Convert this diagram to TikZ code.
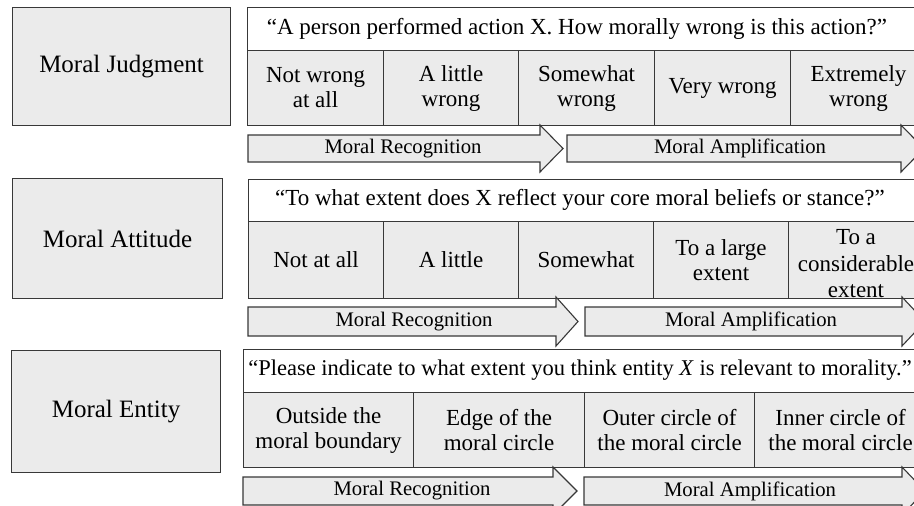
\documentclass[tikz,border=0pt]{standalone}
\usepackage{fontspec}
\setmainfont{Liberation Serif}
\tikzset{
  frame/.style={draw=black!78, line width=1.1pt},
  sidebox/.style={frame, fill=black!8, inner sep=0pt, anchor=north west,
    font=\fontsize{25}{27}\selectfont},
  qbox/.style={frame, fill=white, inner sep=0pt, anchor=north west},
  qtext/.style={inner sep=0pt, font=\fontsize{23}{25}\selectfont},
  cell/.style={frame, fill=black!8, inner sep=0pt, anchor=north west, align=center,
    font=\fontsize{23}{25}\selectfont},
  arrowshape/.style={frame, fill=black!8, line join=miter},
  arrowtext/.style={inner sep=0pt, font=\fontsize{20.7}{22}\selectfont},
}
\begin{document}
\begin{tikzpicture}[x=1pt,y=-1pt]
\useasboundingbox (0,0) rectangle (914,506);
\clip (0,0) rectangle (914,506);
\fill[white] (0,0) rectangle (914,506);

% ---------------- Row 1 ----------------
\node[sidebox, minimum width=218pt, minimum height=118pt] (mj) at (12,7) {Moral Judgment};
\node[qbox, minimum width=679pt, minimum height=43pt] (q1) at (247,7) {};
\node[qtext] (q1t) at (577,28.5) {“A person performed action X. How morally wrong is this action?”};
\node[cell, minimum width=136pt, minimum height=75pt] (a1) at (247,50) {Not wrong\\at all};
\node[cell, minimum width=135pt, minimum height=75pt] (a2) at (383,50) {A little\\wrong};
\node[cell, minimum width=136pt, minimum height=75pt] (a3) at (518,50) {Somewhat\\wrong};
\node[cell, minimum width=136pt, minimum height=75pt] (a4) at (654,50) {Very wrong};
\node[cell, minimum width=136pt, minimum height=75pt] (a5) at (790,50) {Extremely\\wrong};
\draw[arrowshape] (248,135) -- (540,135) -- (540,125) -- (563,148.5) -- (540,172) -- (540,162) -- (248,162) -- cycle;
\node[arrowtext] (r1) at (403,148.5) {Moral Recognition};
\draw[arrowshape] (567,135) -- (901,135) -- (901,125) -- (924,148.5) -- (901,172) -- (901,162) -- (567,162) -- cycle;
\node[arrowtext] (m1) at (740,148.5) {Moral Amplification};

% ---------------- Row 2 ----------------
\node[sidebox, minimum width=210pt, minimum height=120pt] (ma) at (12,178) {Moral Attitude};
\node[qbox, minimum width=678pt, minimum height=42pt] (q2) at (248,179) {};
\node[qtext] (q2t) at (580,200) {“To what extent does X reflect your core moral beliefs or stance?”};
\node[cell, minimum width=135pt, minimum height=77pt] (b1) at (248,221) {Not at all};
\node[cell, minimum width=135pt, minimum height=77pt] (b2) at (383,221) {A little};
\node[cell, minimum width=135pt, minimum height=77pt] (b3) at (518,221) {Somewhat};
\node[cell, minimum width=135pt, minimum height=77pt] (b4) at (653,221) {To a large\\extent};
\node[cell, minimum width=138pt, minimum height=77pt] (b5) at (788,221) {};
\node[qtext, align=center, font=\fontsize{23}{26.5}\selectfont] (b5t) at (856,264) {To a\\considerable\\extent};
\draw[arrowshape] (248,307) -- (556,307) -- (556,297) -- (578,321.5) -- (556,346) -- (556,336) -- (248,336) -- cycle;
\node[arrowtext] (r2) at (414,321.5) {Moral Recognition};
\draw[arrowshape] (585,307) -- (902,307) -- (902,297) -- (925,321.5) -- (902,346) -- (902,336) -- (585,336) -- cycle;
\node[arrowtext] (m2) at (751,321.5) {Moral Amplification};

% ---------------- Row 3 ----------------
\node[sidebox, minimum width=209pt, minimum height=122pt] (me) at (11,350) {Moral Entity};
\node[qbox, minimum width=683pt, minimum height=43pt] (q3) at (243,349) {};
\node[qtext, font=\fontsize{22.5}{25}\selectfont] (q3t) at (580,370.5) {“Please indicate to what extent you think entity \textit{X} is relevant to morality.”};
\node[cell, minimum width=170pt, minimum height=75pt] (c1) at (243,392) {Outside the\\moral boundary};
\node[cell, minimum width=171pt, minimum height=75pt] (c2) at (413,392) {Edge of the\\moral circle};
\node[cell, minimum width=170pt, minimum height=75pt] (c3) at (584,392) {Outer circle of\\the moral circle};
\node[cell, minimum width=172pt, minimum height=75pt] (c4) at (754,392) {Inner circle of\\the moral circle};
\draw[arrowshape] (243,477) -- (553,477) -- (553,467) -- (577,491) -- (553,515) -- (553,505) -- (243,505) -- cycle;
\node[arrowtext] (r3) at (412,491) {Moral Recognition};
\draw[arrowshape] (584,477) -- (902,477) -- (902,467) -- (925,491) -- (902,515) -- (902,505) -- (584,505) -- cycle;
\node[arrowtext] (m3) at (750,491) {Moral Amplification};
\end{tikzpicture}
\end{document}
